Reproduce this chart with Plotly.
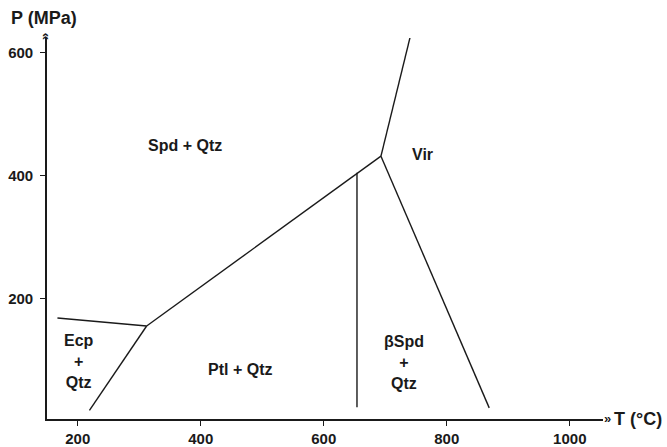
import plotly.graph_objects as go

# Phase boundary curves (T in °C, P in MPa)
ecp_boundary_T = [167, 312]
ecp_boundary_P = [169, 156]
low_boundary_T = [219, 312]
low_boundary_P = [19, 156]
main_boundary_T = [312, 693]
main_boundary_P = [156, 432]
vir_upper_T = [693, 742]
vir_upper_P = [432, 632]
vir_lower_T = [693, 869]
vir_lower_P = [432, 23]
vertical_T = [654, 654]
vertical_P = [24, 405]

# Field labels
label_text = ["Spd + Qtz", "Vir", "Ecp<br>+<br>Qtz", "Ptl + Qtz", "βSpd<br>+<br>Qtz"]
label_T = [374, 760, 202, 463, 731]
label_P = [449, 434, 99, 85, 96]

x_ticks = [200, 400, 600, 800, 1000]
y_ticks = [200, 400, 600]

FONT = "Liberation Sans, Arial, sans-serif"
INK = "#1a1a1a"
LINE = dict(color=INK, width=1.4)

fig = go.Figure()
for tx, py in [(ecp_boundary_T, ecp_boundary_P), (low_boundary_T, low_boundary_P),
               (main_boundary_T, main_boundary_P), (vir_upper_T, vir_upper_P),
               (vir_lower_T, vir_lower_P), (vertical_T, vertical_P)]:
    fig.add_trace(go.Scatter(x=tx, y=py, mode="lines", line=LINE,
                             showlegend=False, hoverinfo="skip", cliponaxis=False))

for t, x, y in zip(label_text, label_T, label_P):
    fig.add_annotation(x=x, y=y, xref="x", yref="y", text=t, showarrow=False,
                       xanchor="center", yanchor="middle",
                       font=dict(family=FONT, size=16, color=INK, weight="bold"),
                       align="center")

L, R, T_, B = 47, 64, 38, 28
W, H = 667, 447
pw, ph = W - L - R, H - T_ - B

def px(xp):
    return (xp - L) / pw

def py_(yp):
    return (H - B - yp) / ph

fig.add_annotation(x=px(44), y=py_(18), xref="paper", yref="paper", text="P (MPa)",
                   xanchor="center", yanchor="middle", showarrow=False,
                   font=dict(family=FONT, size=18, color=INK, weight="bold"))
fig.add_annotation(x=px(612), y=py_(419), xref="paper", yref="paper", text="T (°C)",
                   xanchor="left", yanchor="middle", showarrow=False,
                   font=dict(family=FONT, size=18, color=INK, weight="bold"))
fig.add_annotation(x=px(607), y=py_(418), xref="paper", yref="paper", text="»",
                   xanchor="center", yanchor="middle", showarrow=False,
                   font=dict(family=FONT, size=13, color=INK, weight="bold"))
fig.add_annotation(x=px(45), y=py_(37), xref="paper", yref="paper", text="»", textangle=-90,
                   xanchor="center", yanchor="middle", showarrow=False,
                   font=dict(family=FONT, size=13, color=INK, weight="bold"))

axis_common = dict(showgrid=False, zeroline=False, showline=True, linecolor=INK,
                   linewidth=1.6, ticks="outside", ticklen=5, tickwidth=1.4, tickcolor=INK,
                   automargin=False,
                   tickfont=dict(family=FONT, size=15, color=INK, weight="bold"))

fig.update_layout(
    width=W, height=H,
    margin=dict(l=L, r=R, t=T_, b=B),
    paper_bgcolor="white", plot_bgcolor="white",
    xaxis=dict(range=[150, 1054], tickvals=x_ticks, **axis_common),
    yaxis=dict(range=[4.9, 624], tickvals=y_ticks, ticklabelstandoff=4, **axis_common),
)

fig.write_html("out.html", config={"displayModeBar": False},
               post_script="document.body.style.margin='0px';")
